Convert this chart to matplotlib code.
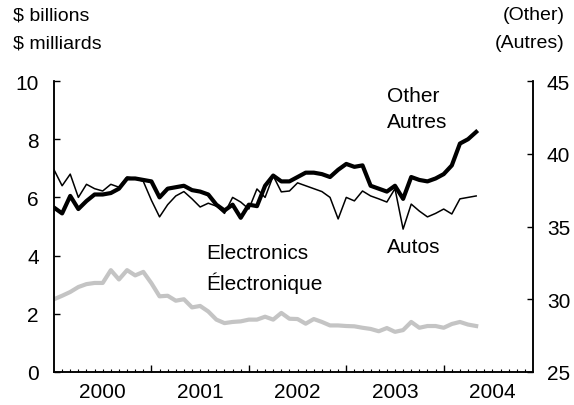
import matplotlib
matplotlib.use("Agg")
import matplotlib.pyplot as plt
import numpy as np

plt.rcParams['font.family'] = ['Liberation Sans', 'DejaVu Sans']

# monthly index: 0 = Jan 2000
electronics = [2.50, 2.62, 2.75, 2.92, 3.02, 3.06, 3.06, 3.50, 3.18, 3.50,
               3.32, 3.44, 3.05, 2.60, 2.62, 2.45, 2.50, 2.22, 2.27, 2.08,
               1.80, 1.68, 1.72, 1.74, 1.80, 1.80, 1.90, 1.80, 2.03, 1.83,
               1.82, 1.66, 1.82, 1.72, 1.60, 1.60, 1.58, 1.57, 1.52, 1.48,
               1.40, 1.51, 1.38, 1.44, 1.72, 1.52, 1.58, 1.58, 1.52, 1.65,
               1.72, 1.63, 1.58]
autos = [6.95, 6.40, 6.80, 6.00, 6.45, 6.30, 6.22, 6.45, 6.35, 6.70,
         6.65, 6.55, 5.90, 5.33, 5.75, 6.05, 6.20, 5.95, 5.67, 5.80,
         5.70, 5.45, 6.00, 5.84, 5.60, 6.29, 6.00, 6.74, 6.19, 6.22,
         6.50, 6.40, 6.30, 6.20, 6.00, 5.26, 6.00, 5.88, 6.22, 6.05,
         5.95, 5.84, 6.30, 4.91, 5.77, 5.53, 5.33, 5.45, 5.60, 5.43,
         5.95, 6.00, 6.05]
other = [36.3, 35.9, 37.1, 36.2, 36.75, 37.2, 37.2, 37.3, 37.6, 38.3,
         38.3, 38.2, 38.1, 37.0, 37.6, 37.7, 37.8, 37.5, 37.4, 37.2,
         36.5, 36.1, 36.5, 35.6, 36.5, 36.4, 37.8, 38.5, 38.1, 38.1,
         38.4, 38.7, 38.7, 38.6, 38.4, 38.9, 39.3, 39.1, 39.2, 37.8,
         37.6, 37.4, 37.8, 36.9, 38.4, 38.2, 38.1, 38.3, 38.6, 39.2,
         40.7, 41.0, 41.5]
years = ['2000', '2001', '2002', '2003', '2004']
left_ticks = [0, 2, 4, 6, 8, 10]
right_ticks = [25, 30, 35, 40, 45]

months = np.arange(len(other))
FS = 15

fig = plt.figure(figsize=(5.74, 4.06), dpi=100)
ax = fig.add_axes([54/574, 1-373/406, (533-54)/574, (373-82)/406])
ax2 = ax.twinx()

ax.plot(months, electronics, color='#c4c4c4', lw=3.0, solid_joinstyle='round', zorder=2)
ax.plot(months, autos, color='black', lw=1.1, zorder=3)
ax2.plot(months, other, color='black', lw=3.0, solid_joinstyle='round', zorder=3)

ax.set_xlim(0, 59)
ax.set_ylim(0, 10)
ax2.set_ylim(25, 45)
ax.set_yticks(left_ticks)
ax2.set_yticks(right_ticks)

ax.set_xticks([12, 24, 36, 48])
ax.set_xticklabels([])
ax.set_xticks(np.arange(1, 59), minor=True)
ax.tick_params(axis='x', which='major', direction='in', length=5, width=1)
ax.tick_params(axis='x', which='minor', direction='in', length=2.5, width=0.8)
ax.tick_params(axis='y', direction='in', length=4.5, width=1, labelsize=FS, pad=11)
ax2.tick_params(axis='y', direction='in', length=4.5, width=1, labelsize=FS, pad=10)

sec = ax.secondary_xaxis('bottom')
sec.set_xticks([6, 18, 30, 42, 54], labels=years)
sec.tick_params(length=0, labelsize=FS, pad=7)
sec.spines['bottom'].set_visible(False)

for a in (ax, ax2):
    a.spines['top'].set_visible(False)
    for s in a.spines.values():
        s.set_linewidth(1.1)

fig.text(13/574, 1-16/406, '$ billions', fontsize=14, va='center', ha='left')
fig.text(13/574, 1-44/406, '$ milliards', fontsize=14, va='center', ha='left')
fig.text(565/574, 1-16/406, '(Other)', fontsize=14, va='center', ha='right')
fig.text(565/574, 1-44/406, '(Autres)', fontsize=14, va='center', ha='right')

ax2.text(41.0, 44.0, 'Other', fontsize=FS, ha='left', va='center')
ax2.text(41.0, 42.2, 'Autres', fontsize=FS, ha='left', va='center')
ax.text(41.0, 4.3, 'Autos', fontsize=FS, ha='left', va='center')
ax.text(18.8, 4.1, 'Electronics', fontsize=FS, ha='left', va='center')
ax.text(18.8, 3.1, 'Électronique', fontsize=FS, ha='left', va='center')

fig.savefig('out.png', dpi=100)
